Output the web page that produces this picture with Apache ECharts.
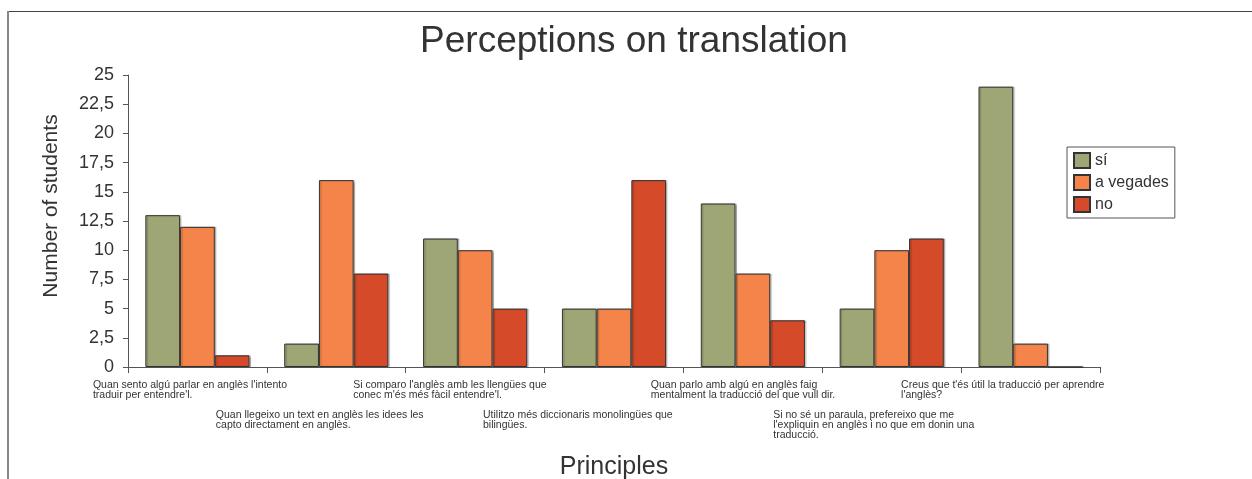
<!DOCTYPE html>
<html>
<head>
<meta charset="utf-8">
<script src="https://cdn.jsdelivr.net/npm/echarts@6/dist/echarts.min.js"></script>
<style>
  html, body { margin: 0; padding: 0; background: #fff; }
  #chart { width: 1252px; height: 479px; }
</style>
</head>
<body>
<div id="chart"></div>
<script>
// Survey answers per statement
const principles = [
  "Quan sento algú parlar en anglès l'intento\ntraduir per entendre'l.",
  "Quan llegeixo un text en anglès les idees les\ncapto directament en anglès.",
  "Si comparo l'anglès amb les llengües que\nconec m'és més fàcil entendre'l.",
  "Utilitzo més diccionaris monolingües que\nbilingües.",
  "Quan parlo amb algú en anglès faig\nmentalment la traducció del que vull dir.",
  "Si no sé un paraula, prefereixo que me\nl'expliquin en anglès i no que em donin una\ntraducció.",
  "Creus que t'és útil la traducció per aprendre\nl'anglès?"
];
const seriesNames = ['sí', 'a vegades', 'no'];
const siValues = [13, 2, 11, 5, 14, 5, 24];
const aVegadesValues = [12, 16, 10, 5, 8, 10, 2];
const noValues = [1, 8, 5, 16, 4, 11, 0];

const title = 'Perceptions on translation';
const yAxisTitle = 'Number of students';
const xAxisTitle = 'Principles';

// Styling
const colors = ['#9ea675', '#f4844a', '#d54a29'];
const textColor = '#333';
const axisColor = '#555';
const labelFont = 'Liberation Sans, Arial, sans-serif';
// width of the text block under each category (lines are left-aligned inside)
const labelBoxWidths = [209, 241, 244, 262, 204, 237, 259];

const rich = { sp: { lineHeight: 30, fontSize: 10 } };
labelBoxWidths.forEach((w, i) => {
  rich['w' + i] = {
    width: w, align: 'left', fontSize: 10.5, lineHeight: 10,
    color: textColor, fontFamily: labelFont
  };
});

const barStyle = (c) => ({
  color: c,
  borderColor: '#333',
  borderWidth: 1,
  shadowColor: 'rgba(0,0,0,0.22)',
  shadowOffsetX: 1.5,
  shadowOffsetY: 0,
  shadowBlur: 1
});

const chart = echarts.init(document.getElementById('chart'), null, { renderer: 'canvas' });
chart.setOption({
  animation: false,
  backgroundColor: '#fff',
  title: {
    text: title,
    left: 634,
    top: 23,
    padding: 0,
    textAlign: 'center',
    textStyle: { fontSize: 37, fontWeight: 'normal', color: textColor, fontFamily: labelFont }
  },
  legend: {
    orient: 'vertical',
    left: 1067,
    top: 147,
    padding: [5, 6, 5, 6],
    itemWidth: 16,
    itemHeight: 15,
    itemGap: 5,
    borderColor: axisColor,
    borderWidth: 1,
    borderRadius: 0,
    icon: 'rect',
    textStyle: { fontSize: 16, lineHeight: 15, color: textColor, fontFamily: labelFont },
    data: seriesNames
  },
  grid: { left: 128, right: 152, top: 75, bottom: 112, containLabel: false, outerBoundsMode: 'none' },
  xAxis: {
    type: 'category',
    data: principles,
    name: xAxisTitle,
    nameLocation: 'middle',
    nameGap: 88,
    nameTextStyle: { fontSize: 25, color: textColor, fontFamily: labelFont },
    axisLine: { lineStyle: { color: axisColor, width: 1 } },
    axisTick: { show: true, length: 6, alignWithLabel: false, lineStyle: { color: axisColor } },
    axisLabel: {
      interval: 0,
      margin: 13,
      align: 'center',
      verticalAlign: 'top',
      rich: rich,
      formatter: function (value, index) {
        const lines = value.split('\n').map(l => '{w' + index + '|' + l + '}');
        if (index % 2 === 1) lines.unshift('{sp| }');
        return lines.join('\n');
      }
    }
  },
  yAxis: {
    type: 'value',
    min: 0,
    max: 25,
    interval: 2.5,
    name: yAxisTitle,
    nameLocation: 'middle',
    nameGap: 66,
    nameRotate: 90,
    nameTextStyle: { fontSize: 21, color: textColor, fontFamily: labelFont, padding: [0, 0, 0, 30] },
    axisLine: { show: true, lineStyle: { color: axisColor, width: 1 } },
    axisTick: { show: true, length: 5, lineStyle: { color: axisColor } },
    splitLine: { show: false },
    axisLabel: {
      margin: 14,
      fontSize: 18,
      color: textColor,
      fontFamily: labelFont,
      formatter: v => String(v).replace('.', ',')
    }
  },
  series: [
    { name: seriesNames[0], type: 'bar', data: siValues, itemStyle: barStyle(colors[0]), barGap: '0%', barCategoryGap: '25%' },
    { name: seriesNames[1], type: 'bar', data: aVegadesValues, itemStyle: barStyle(colors[1]), barGap: '0%', barCategoryGap: '25%' },
    { name: seriesNames[2], type: 'bar', data: noValues, itemStyle: barStyle(colors[2]), barGap: '0%', barCategoryGap: '25%' }
  ],
  graphic: [
    // outer frame: top and left edges
    { type: 'line', shape: { x1: 8, y1: 11.5, x2: 1252, y2: 11.5 }, style: { stroke: '#444', lineWidth: 1.2 }, silent: true },
    { type: 'line', shape: { x1: 8, y1: 11, x2: 8, y2: 479 }, style: { stroke: '#888', lineWidth: 2 }, silent: true }
  ]
});
</script>
</body>
</html>
